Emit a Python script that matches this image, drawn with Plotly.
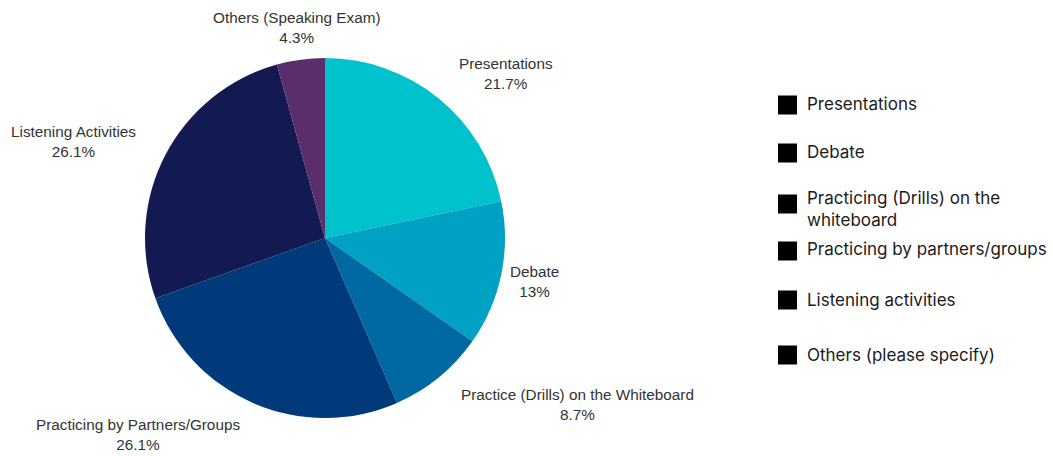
import plotly.graph_objects as go

labels = ["Presentations", "Debate", "Practice (Drills) on the Whiteboard",
          "Practicing by Partners/Groups", "Listening Activities", "Others (Speaking Exam)"]
values = [21.7, 13, 8.7, 26.1, 26.1, 4.3]
colors = ["#00C2CC", "#00A1C3", "#0069A2", "#003A7B", "#131A52", "#5A2D6C"]

legend_items = ["Presentations", "Debate", "Practicing (Drills) on the<br>whiteboard",
                "Practicing by partners/groups", "Listening activities", "Others (please specify)"]

# layout positions (pixels)
label_pos_px = [(506, 74), (534, 281), (577, 404), (138, 434), (73, 141), (296, 28)]
legend_y_px = [104, 152, 209, 249, 300, 355]
square_y_px = [105, 153, 204, 251, 300, 355]

W, H = 1053, 456
cx, cy, r = 325, 238, 180

fig = go.Figure(go.Pie(
    labels=labels, values=values, sort=False, direction="clockwise", rotation=0,
    marker=dict(colors=colors, line=dict(width=0)),
    textinfo="none",
    hoverinfo="label+value", showlegend=False,
    domain=dict(x=[(cx - r) / W, (cx + r) / W], y=[1 - (cy + r) / H, 1 - (cy - r) / H]),
))

shapes = []
annotations = []
for lab, val, (px, py) in zip(labels, values, label_pos_px):
    annotations.append(dict(xref="paper", yref="paper", x=px / W, y=1 - py / H,
                            xanchor="center", yanchor="middle", align="center", showarrow=False,
                            text=f"{lab}<br>{val:g}%",
                            font=dict(family="Liberation Sans, Arial", size=15.3, color="#333333")))

for txt, ty, sy in zip(legend_items, legend_y_px, square_y_px):
    shapes.append(dict(type="rect", xref="paper", yref="paper",
                       x0=778 / W, x1=797 / W, y0=1 - (sy + 9.5) / H, y1=1 - (sy - 9.5) / H,
                       fillcolor="#000000", line=dict(width=0)))
    annotations.append(dict(xref="paper", yref="paper", x=805 / W, y=1 - ty / H,
                            xanchor="left", yanchor="middle", align="left", showarrow=False,
                            text=txt, font=dict(family="Inter, Lato, sans-serif", size=17, color="#1a1a1a")))

fig.update_layout(
    width=W, height=H, margin=dict(l=0, r=0, t=0, b=0),
    paper_bgcolor="white", plot_bgcolor="white",
    shapes=shapes, annotations=annotations,
)
fig.write_html("out.html", config={"displayModeBar": False},
               post_script="document.body.style.margin='0';")
